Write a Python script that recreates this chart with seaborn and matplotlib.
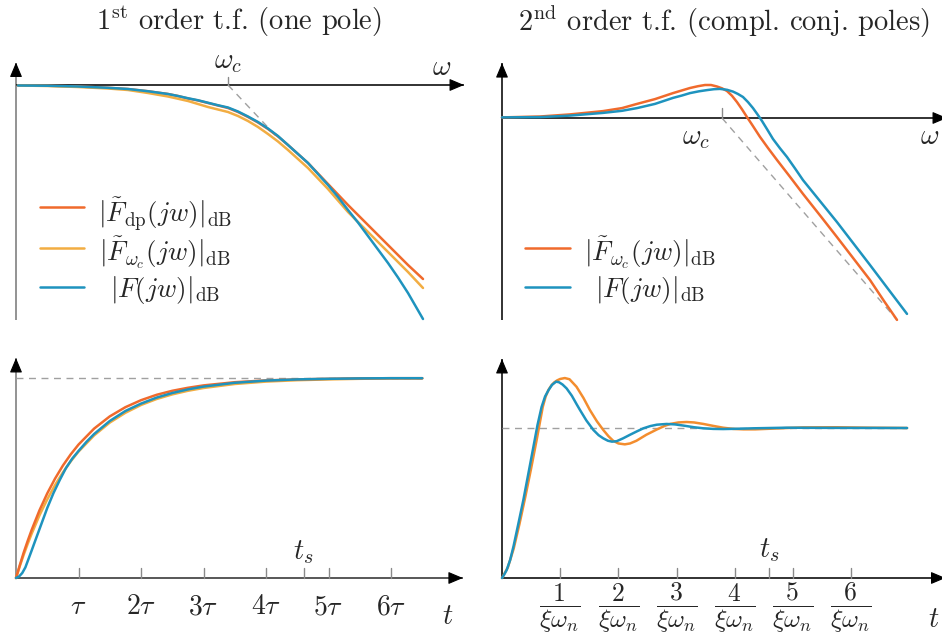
import matplotlib
matplotlib.use("Agg")
import matplotlib.pyplot as plt
import seaborn as sns

# ---------------------------------------------------------------------------
# 1st order, Bode magnitude: x = log10(w / w_c) [decades], y = |F| [dB]
bode1_x = [-2.1, -1.8, -1.5, -1.2, -1.0, -0.8, -0.6, -0.5, -0.4, -0.3, -0.2,
           -0.1, 0.0, 0.1, 0.2, 0.3, 0.4, 0.5, 0.6, 0.7, 0.8, 0.9, 1.0, 1.1,
           1.2, 1.3, 1.4, 1.5, 1.6, 1.7, 1.8, 1.95]
bode1_dp = [-0.1, -0.15, -0.3, -0.56, -0.8, -1.25, -1.8, -2.2, -2.7, -3.1,
            -3.6, -4.1, -4.6, -5.4, -6.4, -7.5, -8.8, -10.3, -12.0, -13.8,
            -15.6, -17.7, -19.8, -21.9, -24.0, -26.0, -28.0, -30.0, -32.0,
            -34.0, -36.0, -38.8]
bode1_wc = [-0.1, -0.2, -0.4, -0.7, -1.0, -1.6, -2.3, -2.75, -3.2, -3.8,
            -4.4, -4.9, -5.4, -6.2, -7.2, -8.4, -9.8, -11.3, -13.0, -14.8,
            -16.6, -18.7, -20.8, -23.1, -25.4, -27.4, -29.4, -31.4, -33.4,
            -35.4, -37.4, -40.6]
bode1_true = [-0.1, -0.15, -0.3, -0.56, -0.8, -1.25, -1.8, -2.2, -2.65, -3.05,
              -3.55, -4.05, -4.5, -5.3, -6.3, -7.4, -8.7, -10.2, -12.0, -13.8,
              -15.6, -17.8, -20.0, -22.4, -25.0, -27.5, -30.2, -32.9, -35.6,
              -38.5, -41.6, -46.8]
bode1_asym_x = [0.0, 0.5]
bode1_asym = [0.0, -10.6]

# 2nd order, Bode magnitude
bode2_wc_x = [-2.2, -1.82, -1.52, -1.19, -1.0, -0.85, -0.67, -0.49, -0.4,
              -0.32, -0.24, -0.17, -0.11, -0.05, 0.0, 0.05, 0.1, 0.15, 0.2,
              0.25, 0.3, 0.38, 0.46, 0.55, 0.68, 0.81, 1.0, 1.15, 1.3, 1.48,
              1.62, 1.75]
bode2_wc = [0.2, 0.5, 1.2, 2.3, 3.3, 4.7, 6.3, 8.3, 9.2, 10.0, 10.6, 11.0,
            11.0, 10.5, 9.9, 9.0, 7.4, 5.3, 2.9, 0.3, -2.2, -6.3, -10.0, -14.0,
            -19.6, -25.3, -33.3, -39.7, -46.2, -54.0, -61.0, -67.3]
bode2_true_x = [-2.2, -1.82, -1.52, -1.19, -1.0, -0.85, -0.67, -0.49, -0.4,
                -0.32, -0.23, -0.15, -0.08, -0.02, 0.05, 0.11, 0.16, 0.21,
                0.26, 0.31, 0.355, 0.40, 0.45, 0.51, 0.58, 0.65, 0.73, 0.81,
                0.98, 1.15, 1.3, 1.48, 1.65, 1.85]
bode2_true = [0.2, 0.3, 0.8, 1.7, 2.4, 3.3, 4.7, 6.7, 7.5, 8.3, 8.9, 9.3, 9.6,
              9.7, 9.4, 8.8, 8.0, 7.0, 5.3, 3.3, 1.2, -1.0, -3.7, -7.0, -10.1,
              -13.0, -16.8, -20.7, -27.7, -34.7, -41.2, -49.0, -56.5, -65.3]
bode2_asym_x = [0.0, 1.75]
bode2_asym = [0.0, -67.3]

# 1st order, step response: t in units of tau
step1_t = [0, 0.0625, 0.125, 0.1875, 0.25, 0.375, 0.5, 0.625, 0.75, 0.875, 1,
           1.25, 1.5, 1.75, 2, 2.25, 2.5, 2.75, 3, 3.5, 4, 4.5, 5, 5.5, 6, 6.5]
step1_dp = [0, 0.066, 0.129, 0.186, 0.240, 0.338, 0.423, 0.497, 0.562, 0.618,
            0.667, 0.747, 0.808, 0.854, 0.889, 0.916, 0.936, 0.951, 0.963,
            0.979, 0.988, 0.993, 0.996, 0.998, 0.999, 0.999]
step1_wc = [0, 0.061, 0.118, 0.171, 0.221, 0.313, 0.393, 0.465, 0.528, 0.583,
            0.632, 0.713, 0.777, 0.826, 0.865, 0.895, 0.918, 0.936, 0.950,
            0.970, 0.982, 0.989, 0.993, 0.996, 0.998, 0.998]
step1_true_t = [0, 0.05, 0.1, 0.15, 0.2, 0.25, 0.3, 0.4, 0.5, 0.6, 0.7, 0.8,
                0.9, 1, 1.125, 1.25, 1.5, 1.75, 2, 2.25, 2.5, 2.75, 3, 3.5, 4,
                4.5, 5, 5.5, 6, 6.5]
step1_true = [0, 0.008, 0.025, 0.053, 0.095, 0.137, 0.18, 0.265, 0.35, 0.425,
              0.49, 0.55, 0.597, 0.635, 0.68, 0.72, 0.785, 0.835, 0.872,
              0.902, 0.925, 0.943, 0.957, 0.976, 0.987, 0.993, 0.996, 0.998,
              0.999, 0.999]
step1_ticks = [1, 2, 3, 4, 5, 6]
step1_ticklabels = [r"$\tau$", r"$2\tau$", r"$3\tau$", r"$4\tau$",
                    r"$5\tau$", r"$6\tau$"]
step1_ts = 4.6
step1_end = 6.5

# 2nd order, step response: t in units of 1/(xi*w_n)
step2_wc_t = [0, 0.1, 0.2, 0.3, 0.4, 0.5, 0.6, 0.7, 0.75, 0.8, 0.85, 0.9,
              0.95, 1.0, 1.08, 1.16, 1.28, 1.4, 1.51, 1.63, 1.74, 1.83, 1.91,
              2.0, 2.11, 2.2, 2.31, 2.48, 2.66, 2.8, 2.89, 3.03, 3.17, 3.3,
              3.46, 3.63, 3.8, 3.97, 4.15, 4.35, 4.6, 4.9, 5.17, 5.75, 6.3,
              6.96]
step2_wc = [0, 0.07, 0.195, 0.36, 0.54, 0.73, 0.93, 1.14, 1.21, 1.255, 1.285,
            1.305, 1.318, 1.327, 1.333, 1.325, 1.275, 1.2, 1.12, 1.045, 0.987,
            0.945, 0.915, 0.897, 0.891, 0.897, 0.915, 0.955, 0.99, 1.015,
            1.027, 1.037, 1.04, 1.037, 1.027, 1.014, 1.002, 0.994, 0.991,
            0.991, 0.995, 1.0, 1.004, 1.005, 1.002, 1.0]
step2_true_t = [0, 0.04, 0.08, 0.14, 0.2, 0.28, 0.367, 0.45, 0.54, 0.61, 0.68,
                0.74, 0.8, 0.86, 0.93, 0.98, 1.04, 1.11, 1.2, 1.28, 1.34,
                1.45, 1.57, 1.66, 1.74, 1.82, 1.89, 1.97, 2.08, 2.2, 2.32,
                2.43, 2.55, 2.66, 2.83, 2.97, 3.12, 3.3, 3.46, 3.63, 3.8, 4.05,
                4.32, 4.89, 5.5, 6.96]
step2_true = [0, 0.025, 0.053, 0.12, 0.215, 0.36, 0.52, 0.69, 0.875, 1.02,
              1.14, 1.21, 1.253, 1.288, 1.309, 1.305, 1.29, 1.264, 1.215, 1.16,
              1.12, 1.05, 0.987, 0.952, 0.931, 0.915, 0.909, 0.912, 0.931,
              0.955, 0.978, 0.998, 1.013, 1.022, 1.027, 1.024, 1.016, 1.005,
              0.998, 0.994, 0.993, 0.995, 0.998, 1.002, 1.001, 1.0]
step2_ticks = [1, 2, 3, 4, 5, 6]
step2_ticklabels = [r"$\dfrac{%d}{\xi\omega_n}$" % k for k in step2_ticks]
step2_ts = 4.59
step2_end = 6.96

label_dp = r"$|\tilde{F}_{\rm dp}(jw)|_{\rm dB}$"
label_wc = r"$|\tilde{F}_{\omega_c}(jw)|_{\rm dB}$"
label_true = r"$|F(jw)|_{\rm dB}$"
title_1 = r"$1^{\rm st}$ order t.f. (one pole)"
title_2 = r"$2^{\rm nd}$ order t.f. (compl. conj. poles)"

# ---------------------------------------------------------------------------
sns.set_theme(style="white")
plt.rcParams["font.family"] = "serif"
plt.rcParams["font.serif"] = ["cmr10", "DejaVu Serif"]
plt.rcParams["mathtext.fontset"] = "cm"
plt.rcParams["axes.unicode_minus"] = False

ORANGE = "#F06A2C"
YELLOW = "#F2AD42"
BLUE = "#1E93BE"
ORANGE2 = "#F38D2E"
GREY = "#8a8a8a"
DASH = "#a0a0a0"
LW = 1.8
FS_TITLE = 20.5
FS_LEG = 19.5
FS_TICK = 20
FS_SYM = 20.5
FS_FRAC = 18.5

W, H = 942, 636
fig = plt.figure(figsize=(W / 100, H / 100), dpi=100)


def make_axes(box, origin, scale):
    """Axes covering the pixel box (x0, y0, x1, y1) with a linear data map."""
    x0, y0, x1, y1 = box
    ox, oy = origin
    sx, sy = scale
    ax = fig.add_axes([x0 / W, 1 - y1 / H, (x1 - x0) / W, (y1 - y0) / H])
    ax.set_xlim((x0 - ox) / sx, (x1 - ox) / sx)
    ax.set_ylim((oy - y1) / sy, (oy - y0) / sy)
    ax.axis("off")
    return ax


def axis_arrow(ax, start, tip, shaft_color, direction):
    ax.plot([start[0], tip[0]], [start[1], tip[1]], color=shaft_color,
            lw=1.3, solid_capstyle="butt", clip_on=False, zorder=1)
    off = {"up": (0, -9), "right": (-9, 0)}[direction]
    ax.annotate("", xy=tip, xytext=off, textcoords="offset points",
                arrowprops=dict(arrowstyle="-|>,head_length=0.45,head_width=0.19",
                                mutation_scale=20, color="black", lw=0.8,
                                shrinkA=0, shrinkB=0),
                annotation_clip=False, zorder=2)


def curve(ax, x, y, color):
    sns.lineplot(x=x, y=y, ax=ax, color=color, linewidth=LW, estimator=None,
                 sort=False, zorder=3)


def legend_rows(ax, rows, x_line, x_text):
    for (lbl, color, y_line, y_text) in rows:
        ax.plot(x_line, [y_line, y_line], color=color, lw=LW, clip_on=False)
        ax.text(x_text, y_text, lbl, ha="center", va="center", fontsize=FS_LEG)


# ---- top left: 1st order Bode ----------------------------------------------
ax1 = make_axes((0, 40, 470, 330), (228, 85), (100, 5))
axis_arrow(ax1, (-2.12, -47.0), (-2.12, 4.5), GREY, "up")
axis_arrow(ax1, (-2.12, 0.0), (2.36, 0.0), "#222222", "right")
ax1.plot([0, 0], [0, 1.6], color=GREY, lw=1)
ax1.plot(bode1_asym_x, bode1_asym, color=DASH, lw=1, ls=(0, (5, 4)))
curve(ax1, bode1_x, bode1_dp, ORANGE)
curve(ax1, bode1_x, bode1_wc, YELLOW)
curve(ax1, bode1_x, bode1_true, BLUE)
ax1.text(0.0, 2.0, r"$\omega_c$", ha="center", va="bottom", fontsize=FS_SYM)
ax1.text(2.14, 3.4, r"$\omega$", ha="center", va="center", fontsize=FS_SYM)
legend_rows(ax1, [(label_dp, ORANGE, -24.4, -25.8),
                  (label_wc, YELLOW, -32.6, -33.6),
                  (label_true, BLUE, -40.4, -41.0)],
            [-1.88, -1.44], -0.63)

# ---- top right: 2nd order Bode ---------------------------------------------
ax2 = make_axes((470, 40, 942, 330), (722, 118), (100, 3))
axis_arrow(ax2, (-2.2, -67.3), (-2.2, 18.3), "#222222", "up")
axis_arrow(ax2, (-2.2, 0.0), (2.25, 0.0), "#222222", "right")
ax2.plot([0, 0], [0, 3.3], color=GREY, lw=1)
ax2.plot(bode2_asym_x, bode2_asym, color=DASH, lw=1, ls=(0, (5, 4)))
curve(ax2, bode2_wc_x, bode2_wc, ORANGE)
curve(ax2, bode2_true_x, bode2_true, BLUE)
ax2.text(-0.26, -6.7, r"$\omega_c$", ha="center", va="center", fontsize=FS_SYM)
ax2.text(2.08, -6.3, r"$\omega$", ha="center", va="center", fontsize=FS_SYM)
legend_rows(ax2, [(label_wc, ORANGE, -43.3, -45.0),
                  (label_true, BLUE, -56.3, -57.3)],
            [-1.97, -1.52], -0.72)

# ---- bottom left: 1st order step -------------------------------------------
ax3 = make_axes((0, 340, 470, 636), (16, 578), (62.5, 200))
axis_arrow(ax3, (0.0, 0.0), (0.0, 1.1), GREY, "up")
axis_arrow(ax3, (0.0, 0.0), (7.15, 0.0), "#4a4a4a", "right")
for tk in step1_ticks + [step1_ts]:
    ax3.plot([tk, tk], [0, 0.05], color=GREY, lw=1)
ax3.plot([0, step1_end], [1, 1], color=DASH, lw=1, ls=(0, (5, 4)))
curve(ax3, step1_t, step1_wc, YELLOW)
curve(ax3, step1_t, step1_dp, ORANGE)
curve(ax3, step1_true_t, step1_true, BLUE)
for tk, lbl in zip(step1_ticks, step1_ticklabels):
    ax3.text(tk, -0.145, lbl, ha="center", va="center", fontsize=FS_TICK)
ax3.text(step1_ts, 0.13, r"$t_s$", ha="center", va="center", fontsize=FS_SYM)
ax3.text(6.9, -0.195, r"$t$", ha="center", va="center", fontsize=FS_SYM)

# ---- bottom right: 2nd order step ------------------------------------------
ax4 = make_axes((470, 340, 942, 636), (502, 578), (58.2, 150))
axis_arrow(ax4, (0.0, 0.0), (0.0, 1.46), "#222222", "up")
axis_arrow(ax4, (0.0, 0.0), (7.62, 0.0), "#222222", "right")
for tk in step2_ticks + [step2_ts]:
    ax4.plot([tk, tk], [0, 0.067], color=GREY, lw=1)
ax4.plot([0, step2_end], [1, 1], color=DASH, lw=1, ls=(0, (5, 4)))
curve(ax4, step2_wc_t, step2_wc, ORANGE2)
curve(ax4, step2_true_t, step2_true, BLUE)
for tk, lbl in zip(step2_ticks, step2_ticklabels):
    ax4.text(tk, -0.2, lbl, ha="center", va="center", fontsize=FS_FRAC)
ax4.text(step2_ts, 0.187, r"$t_s$", ha="center", va="center", fontsize=FS_SYM)
ax4.text(7.41, -0.28, r"$t$", ha="center", va="center", fontsize=FS_SYM)

fig.text(239 / W, 1 - 22 / H, title_1, ha="center", va="center",
         fontsize=FS_TITLE)
fig.text(724 / W, 1 - 22 / H, title_2, ha="center", va="center",
         fontsize=FS_TITLE)

fig.savefig("out.png", dpi=100)
